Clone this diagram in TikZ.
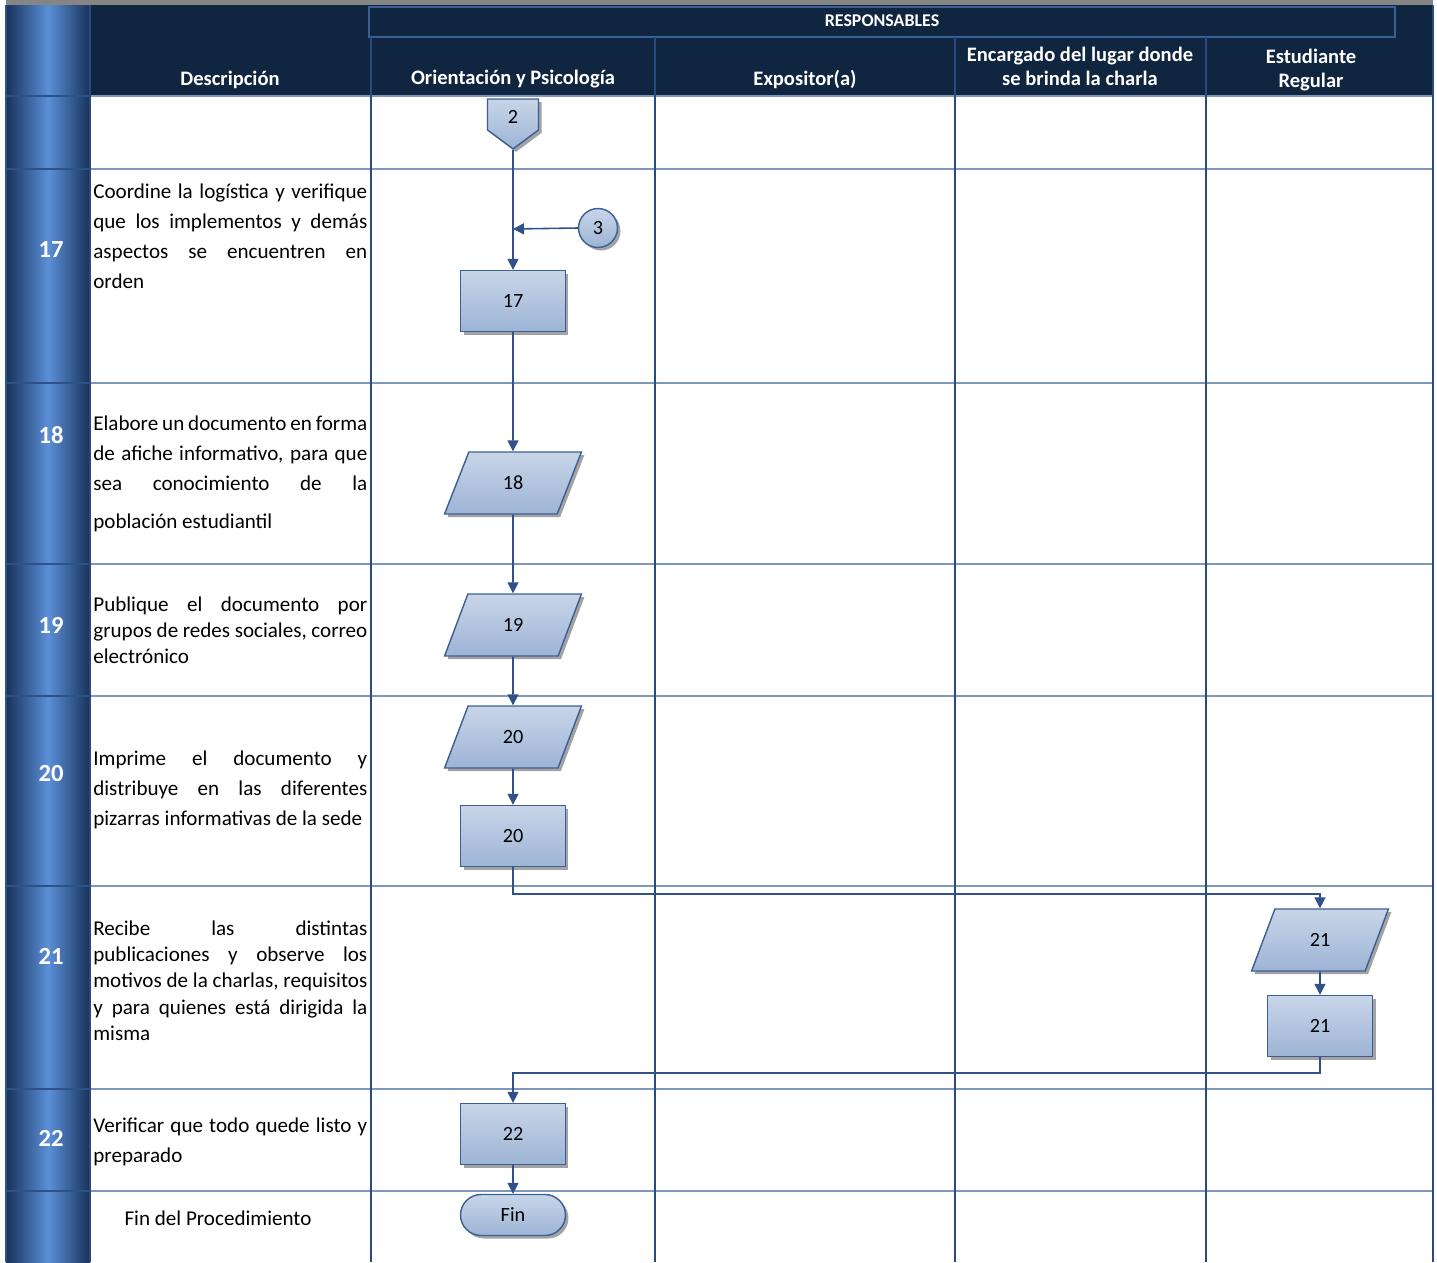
\documentclass[tikz,border=0pt]{standalone}
\usepackage{fontspec}
\setmainfont{Carlito}
\usetikzlibrary{positioning,shapes.geometric,shapes.symbols,shadows,arrows.meta}

\definecolor{topgray}{HTML}{858585}
\definecolor{hdrnavy}{HTML}{10253F}
\definecolor{sideedge}{HTML}{18325A}
\definecolor{sidemid}{HTML}{5B8FD8}
\definecolor{sideline}{HTML}{2B5289}
\definecolor{rowline}{HTML}{7F97BA}
\definecolor{colline}{HTML}{2A4A7E}
\definecolor{boxline}{HTML}{3A5F95}
\definecolor{shtop}{HTML}{C8D5E8}
\definecolor{shbot}{HTML}{9DB4D5}
\definecolor{shborder}{HTML}{3C5F93}
\definecolor{flowblue}{HTML}{30518A}

\tikzset{
    hdr/.style={text=white, align=center, font=\bfseries\fontsize{11.7}{12}\selectfont},
    stepnum/.style={text=white, font=\bfseries\fontsize{14}{14}\selectfont},
    desc/.style={anchor=base west, inner sep=0pt, text width=5.48cm, align=justify,
        font=\fontsize{12}{17.1}\selectfont,
        execute at begin node={\hyphenpenalty=10000\relax}},
    tightdesc/.style={desc, font=\fontsize{12}{15}\selectfont},
    fc/.style={draw=shborder, line width=0.8pt, top color=shtop, bottom color=shbot,
        font=\fontsize{11.5}{12}\selectfont, inner sep=0pt,
        drop shadow={shadow xshift=0.06cm, shadow yshift=-0.06cm, fill=black!45, opacity=.8}},
    proc/.style={fc, rectangle, minimum width=2.1cm, minimum height=1.22cm},
    docio/.style={fc, trapezium, trapezium left angle=68, trapezium right angle=112,
        trapezium stretches=true, minimum width=2.74cm, minimum height=1.24cm},
    term/.style={fc, rectangle, rounded corners=0.41cm, minimum width=2.1cm, minimum height=0.82cm},
    link/.style={fc, circle, minimum size=0.78cm},
    offpage/.style={fc, signal, signal to=south, signal pointer angle=107,
        minimum width=1.02cm, minimum height=0.62cm},
    flow/.style={draw=flowblue, line width=0.9pt, -{Triangle[length=0.22cm,width=0.22cm]}}
}

\begin{document}
\begin{tikzpicture}[x=0.02cm, y=-0.02cm]
    \useasboundingbox (0,0) rectangle (1437,1262);

    % header band and side column
        \fill[topgray] (6,0) rectangle (1433,5);
        \fill[hdrnavy] (90,5) rectangle (1433,96);
        \shade[left color=sideedge, right color=sideedge, middle color=sidemid] (6,5) rectangle (90,1262);

    % table lines
        \draw[boxline, line width=0.8pt] (369,7) rectangle (1395,37);
        \foreach \y in {96,169,383,564,696,886,1089,1191} {
            \draw[sideline, line width=1pt] (6,\y) -- (90,\y);
            \draw[rowline, line width=1pt] (90,\y) -- (1433,\y);
        }
        \foreach \x in {371,655,955,1206}
            \draw[colline, line width=0.8pt] (\x,37) -- (\x,1262);
        \draw[colline, line width=0.8pt] (90,5) -- (90,1262);
        \draw[colline, line width=1pt] (1433,5) -- (1433,1262);
        \draw[sideline, line width=0.8pt] (6,5) -- (6,1262);

    % header texts
        \node[hdr, font=\bfseries\fontsize{10.2}{10}\selectfont] (resp) at (882,21) {RESPONSABLES};
        \node[hdr] (hdesc) at (230,79.5) {Descripción};
        \node[hdr] (horient) at (513,79.5) {Orientación y Psicología};
        \node[hdr] (hexpo) at (805,79) {Expositor(a)};
        \node[hdr, align=center] (hlugar) at (1080,66) {Encargado del lugar donde\\[0.06cm]se brinda la charla};
        \node[hdr, align=center] (hestud) at (1311,70) {Estudiante\\[0.06cm]Regular};

    % step numbers
        \foreach \n/\y in {17/250,18/435,19/625,20/774,21/956,22/1138}
            \node[stepnum] (num\n) at (51,\y) {\n};

    % descriptions
        \node[desc] (d17) at (93,198) {Coordine la logística y verifique\linebreak que los implementos y demás\linebreak aspectos se encuentren en\linebreak orden};
        \node[desc] (d18) at (93,430) {Elabore un documento en forma\linebreak de afiche informativo, para que\linebreak sea conocimiento de la\vadjust{\vskip 0.17cm}\linebreak población estudiantil};
        \node[tightdesc] (d19) at (93,611) {Publique el documento por\linebreak grupos de redes sociales, correo\linebreak electrónico};
        \node[desc] (d20) at (93,765) {Imprime el documento y\linebreak distribuye en las diferentes\linebreak pizarras informativas de la sede};
        \node[tightdesc] (d21) at (93,935) {Recibe las distintas\linebreak publicaciones y observe los\linebreak motivos de la charlas, requisitos\linebreak y para quienes está dirigida la\linebreak misma};
        \node[desc] (d22) at (93,1132) {Verificar que todo quede listo y\linebreak preparado};
        \node[font=\fontsize{12}{12}\selectfont] (dfin) at (218,1218) {Fin del Procedimiento};

    % flow shapes
        \node[offpage] (c2) at (513,114.5) {};
        \node[font=\fontsize{11.5}{12}\selectfont] (c2txt) at (513,117) {2};
        \node[link] (c3) at (598,228) {3};
        \coordinate (j3) at (513,229);
        \node[proc] (p17) at (513,301) {17};
        \node[docio] (io18) at (513,483) {18};
        \node[docio] (io19) at (513,625) {19};
        \node[docio] (io20) at (513,737) {20};
        \node[proc] (p20) at (513,836) {20};
        \node[docio] (io21) at (1320,940) {21};
        \node[proc] (p21) at (1320,1026) {21};
        \node[proc] (p22) at (513,1134) {22};
        \node[term] (fin) at (513,1215) {Fin};

    % connectors
        \draw[flow] (c2.south) -- (p17.north);
        \draw[flow] (c3.west) -- (j3);
        \draw[flow] (p17) -- (io18);
        \draw[flow] (io18) -- (io19);
        \draw[flow] (io19) -- (io20);
        \draw[flow] (io20) -- (p20);
        \draw[flow] (p20.south) -- ++(0,27) -| (io21.north);
        \draw[flow] (io21) -- (p21);
        \draw[flow] (p21.south) -- ++(0,16) -| (p22.north);
        \draw[flow] (p22) -- (fin);
\end{tikzpicture}
\end{document}
